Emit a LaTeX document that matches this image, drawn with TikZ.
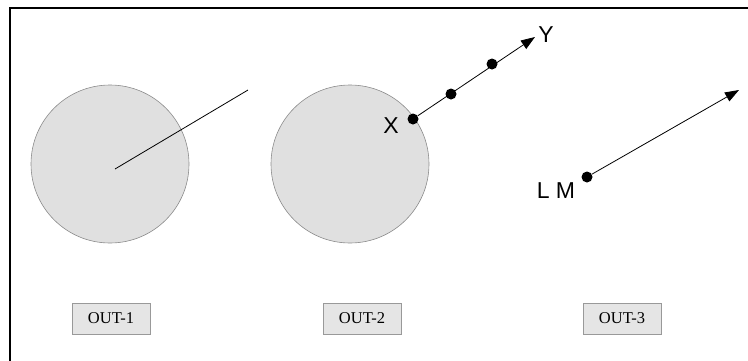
\documentclass[tikz,border=0pt]{standalone}
\usepackage{fontspec}
\setmainfont{Liberation Serif}
\setsansfont{Liberation Sans}
\usetikzlibrary{arrows.meta,positioning}
\tikzset{
  sketch frame/.style={draw=black, line width=1.6pt},
  sketch disc/.style={
    circle,
    fill=black!12,
    draw=black!45,
    line width=0.6pt,
    minimum size=158pt,
    inner sep=0pt
  },
  sketch dot/.style={circle, fill=black, inner sep=0pt, minimum size=11pt},
  sketch ray/.style={draw=black, line width=0.8pt},
  sketch arrow/.style={sketch ray, -{Triangle[length=14pt,width=10pt]}},
  sketch label/.style={
    font=\sffamily\fontsize{23}{23}\selectfont,
    inner sep=0pt
  },
  sketch out/.style={
    draw=black!40,
    fill=black!10,
    line width=0.6pt,
    minimum width=78pt,
    minimum height=31pt,
    inner sep=0pt,
    font=\fontsize{16.5}{17}\selectfont
  }
}
\newcommand{\sketchOut}[3]{%
  \node[sketch out] (#1) at (#2,318.5) {#3};%
}

\begin{document}
\begin{tikzpicture}[x=1pt,y=-1pt]
  \useasboundingbox (0,0) rectangle (748,360);
  \clip (0,0) rectangle (748,360);
  \draw[sketch frame] (10,8) rectangle (770,380);

  % left disc with a plain ray
  \node[sketch disc] (discA) at (110,164) {};
  \coordinate (hubA) at (115,169);
  \coordinate (rayA) at (248,90);
  \draw[sketch ray] (hubA) -- (rayA);

  % middle disc, ray from X to Y
  \node[sketch disc] (discB) at (350,164) {};
  \node[sketch dot] (ptX) at (413,119) {};
  \node[sketch dot] (ptB1) at (451,94) {};
  \node[sketch dot] (ptB2) at (492,64) {};
  \coordinate (tipY) at (535,37);
  \draw[sketch arrow] (ptX) -- (tipY);
  \node[sketch label] (lblX) at (391,126) {X};
  \node[sketch label] (lblY) at (546,35) {Y};

  % free ray from L M
  \node[sketch dot] (ptLM) at (587,177) {};
  \coordinate (tipLM) at (739,90);
  \draw[sketch arrow] (ptLM) -- (tipLM);
  \node[sketch label] (lblLM) at (556,191) {L M};

  \sketchOut{outA}{111}{OUT-1}
  \sketchOut{outB}{362}{OUT-2}
  \sketchOut{outC}{622}{OUT-3}
\end{tikzpicture}
\end{document}
